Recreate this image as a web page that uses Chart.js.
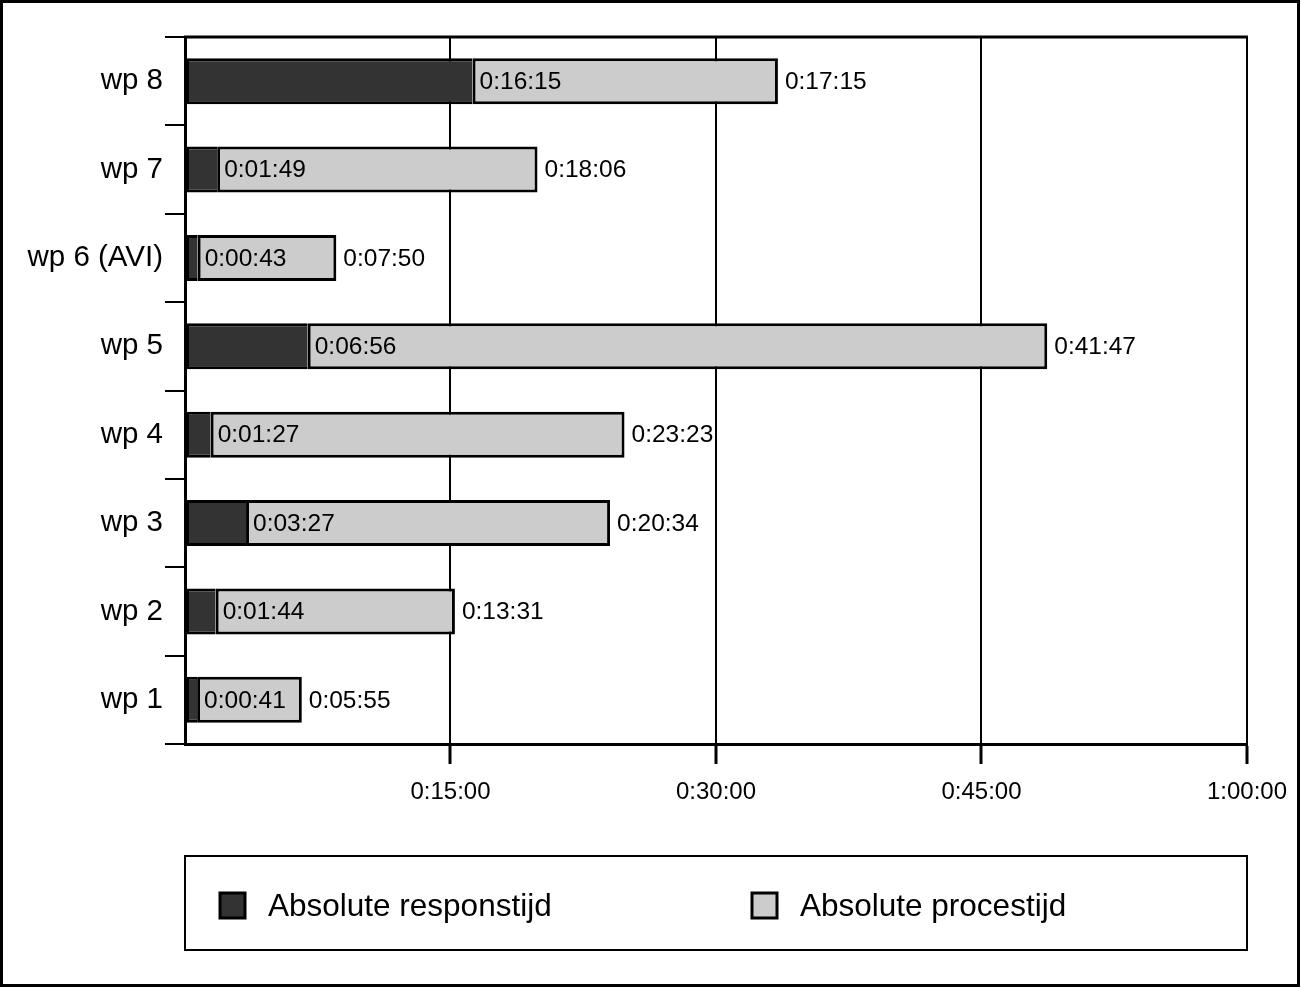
<!DOCTYPE html>
<html>
<head>
<meta charset="utf-8">
<script src="https://cdn.jsdelivr.net/npm/chart.js@4/dist/chart.umd.min.js"></script>
<style>
  html, body { margin: 0; padding: 0; background: #fff; }
  #wrap { width: 1301px; height: 988px; position: relative; }
</style>
</head>
<body>
<div id="wrap"><canvas id="chart" width="1301" height="988"></canvas></div>
<script>
// categories, top to bottom
const categories = ['wp 8', 'wp 7', 'wp 6 (AVI)', 'wp 5', 'wp 4', 'wp 3', 'wp 2', 'wp 1'];
// seconds
const responstijd = [975, 109, 43, 416, 87, 207, 104, 41];
const procestijd = [1035, 1086, 470, 2507, 1403, 1234, 811, 355];
const xTicks = [0, 900, 1800, 2700, 3600];
const seriesNames = ['Absolute responstijd', 'Absolute procestijd'];

const FONT = "'Liberation Sans', Arial, sans-serif";
const DARK = '#333333';
const LIGHT = '#cccccc';

function hms(sec) {
    const h = Math.floor(sec / 3600);
    const m = Math.floor((sec % 3600) / 60);
    const s = sec % 60;
    return h + ':' + String(m).padStart(2, '0') + ':' + String(s).padStart(2, '0');
}

// labels, top border, legend box and outer frame
const extras = {
    id: 'extras',
    afterDatasetsDraw(chart) {
        const ctx = chart.ctx;
        const area = chart.chartArea;
        ctx.save();
        ctx.font = '24.5px ' + FONT;
        ctx.fillStyle = '#000';
        ctx.textBaseline = 'middle';
        ctx.textAlign = 'left';
        const m0 = chart.getDatasetMeta(0);
        const m1 = chart.getDatasetMeta(1);
        categories.forEach((c, i) => {
            const d = m0.data[i];
            const p = m1.data[i];
            ctx.fillText(hms(responstijd[i]), d.x + 7, d.y + 1);
            ctx.fillText(hms(procestijd[i]), p.x + 7, p.y + 1);
        });

        // top border of the plot
        ctx.strokeStyle = '#000';
        ctx.lineWidth = 3;
        ctx.beginPath();
        ctx.moveTo(area.left - 1, area.top);
        ctx.lineTo(area.right + 1, area.top);
        ctx.stroke();

        // legend
        ctx.lineWidth = 2;
        ctx.strokeRect(185, 856, 1062, 94);
        const items = [{x: 220, fill: DARK}, {x: 752, fill: LIGHT}];
        ctx.font = '31.5px ' + FONT;
        items.forEach((it, i) => {
            ctx.lineWidth = 3;
            ctx.fillStyle = it.fill;
            ctx.fillRect(it.x, 893, 25, 25);
            ctx.strokeRect(it.x, 893, 25, 25);
            ctx.fillStyle = '#000';
            ctx.fillText(seriesNames[i], it.x + 48, 907);
        });

        // outer frame
        ctx.lineWidth = 3;
        ctx.strokeRect(1.5, 1.5, 1297, 984);
        ctx.restore();
    }
};

const hideZero = (c) => (c.tick && c.tick.value === 0) ? 'rgba(0,0,0,0)' : '#000';

new Chart(document.getElementById('chart'), {
    type: 'bar',
    data: {
        labels: categories,
        datasets: [
            {
                label: seriesNames[0],
                data: responstijd,
                backgroundColor: DARK,
                borderColor: '#000',
                borderWidth: { top: 3, bottom: 3, left: 3, right: 0 },
                borderSkipped: false
            },
            {
                label: seriesNames[1],
                data: procestijd,
                backgroundColor: LIGHT,
                borderColor: '#000',
                borderWidth: 3,
                borderSkipped: false
            }
        ]
    },
    options: {
        indexAxis: 'y',
        responsive: false,
        animation: false,
        barPercentage: 0.52,
        categoryPercentage: 1,
        layout: { padding: { top: 37, right: 54, left: 0, bottom: 144 } },
        plugins: {
            legend: { display: false },
            tooltip: { enabled: false }
        },
        scales: {
            x: {
                stacked: true,
                min: 0,
                max: 3600,
                afterBuildTicks: (scale) => { scale.ticks = xTicks.map(v => ({ value: v })); },
                afterFit: (scale) => { scale.height = 100; },
                ticks: {
                    callback: (v) => v === 0 ? '' : hms(v),
                    color: '#000',
                    font: { family: FONT, size: 24 },
                    padding: 14,
                    maxRotation: 0
                },
                grid: { color: hideZero, tickColor: hideZero, lineWidth: 2, tickLength: 20, tickWidth: 3 },
                border: { color: '#000', width: 3 }
            },
            y: {
                stacked: true,
                afterFit: (scale) => { scale.width = 185; },
                ticks: {
                    color: '#000',
                    font: { family: FONT, size: 29.5 },
                    padding: 2
                },
                grid: { drawOnChartArea: false, color: '#000', lineWidth: 2, tickLength: 20, offset: true },
                border: { color: '#000', width: 3 }
            }
        }
    },
    plugins: [extras]
});
</script>
</body>
</html>
